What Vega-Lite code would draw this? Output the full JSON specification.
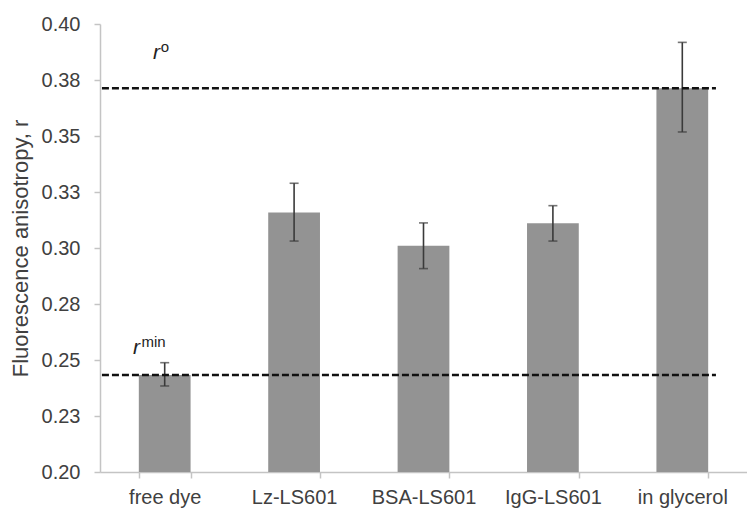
{
  "$schema": "https://vega.github.io/schema/vega-lite/v6.json",
  "width": 647,
  "height": 448,
  "autosize": "none",
  "padding": {"left": 100, "top": 24, "right": 0, "bottom": 40},
  "background": "white",
  "config": {
    "view": {"stroke": null},
    "font": "Liberation Sans",
    "axis": {"grid": false, "domainColor": "#c4c4c4", "tickColor": "#c4c4c4", "labelColor": "#404040", "titleColor": "#404040", "labelFontSize": 20, "titleFontSize": 22, "titleFontWeight": "normal", "domainWidth": 1.5, "tickWidth": 1.5}
  },
  "datasets": {
    "bars": [
      {"cat": "free dye", "r": 0.2433, "lo": 0.2384, "hi": 0.2488},
      {"cat": "Lz-LS601", "r": 0.3159, "lo": 0.3031, "hi": 0.3289},
      {"cat": "BSA-LS601", "r": 0.3010, "lo": 0.2908, "hi": 0.3112},
      {"cat": "IgG-LS601", "r": 0.3110, "lo": 0.3031, "hi": 0.3189},
      {"cat": "in glycerol", "r": 0.3713, "lo": 0.3518, "hi": 0.3918}
    ],
    "lines": [
      {"name": "r0", "y": 0.3713, "x0": 0.003, "x1": 0.952},
      {"name": "rmin", "y": 0.2433, "x0": 0.003, "x1": 0.952}
    ],
    "labels": [
      {"t": "r", "x": 0.082, "y": 0.3844, "kind": "main"},
      {"t": "o", "x": 0.094, "y": 0.3875, "kind": "sup"},
      {"t": "r", "x": 0.051, "y": 0.2527, "kind": "main"},
      {"t": "min", "x": 0.064, "y": 0.2560, "kind": "sup"}
    ]
  },
  "layer": [
    {
      "encoding": {
        "x": {"field": "cat", "type": "nominal", "sort": null,
          "scale": {"paddingInner": 0.6, "paddingOuter": 0.3},
          "axis": {"title": null, "labelAngle": 0, "tickBand": "extent", "tickSize": 6, "labelPadding": 9}}
      },
      "layer": [
        {
          "data": {"name": "bars"},
          "mark": {"type": "bar", "color": "#939393"},
          "encoding": {
            "y": {"field": "r", "type": "quantitative",
              "scale": {"domain": [0.2, 0.4], "nice": false, "zero": false},
              "axis": {"title": "Fluorescence anisotropy, r", "values": [0.2, 0.225, 0.25, 0.275, 0.3, 0.325, 0.35, 0.375, 0.4], "format": ".2f", "tickSize": 6, "labelPadding": 14, "titlePadding": 9}},
            "y2": {"datum": 0.2}
          }
        },
        {
          "data": {"name": "bars"},
          "mark": {"type": "rule", "color": "#3a3a3a", "strokeWidth": 1.6},
          "encoding": {"y": {"field": "lo", "type": "quantitative"}, "y2": {"field": "hi"}}
        },
        {
          "data": {"name": "bars"},
          "mark": {"type": "tick", "color": "#3a3a3a", "size": 9, "thickness": 1.6, "orient": "horizontal"},
          "encoding": {"y": {"field": "lo", "type": "quantitative"}}
        },
        {
          "data": {"name": "bars"},
          "mark": {"type": "tick", "color": "#3a3a3a", "size": 9, "thickness": 1.6, "orient": "horizontal"},
          "encoding": {"y": {"field": "hi", "type": "quantitative"}}
        }
      ]
    },
    {
      "layer": [
        {
          "data": {"name": "lines"},
          "mark": {"type": "rule", "color": "#111111", "strokeWidth": 2.4, "strokeDash": [7, 3]},
          "encoding": {
            "x": {"field": "x0", "type": "quantitative", "scale": {"domain": [0, 1]}, "axis": null},
            "x2": {"field": "x1"},
            "y": {"field": "y", "type": "quantitative"}
          }
        },
        {
          "data": {"name": "labels"},
          "transform": [{"filter": "datum.kind == 'main'"}],
          "mark": {"type": "text", "fontStyle": "italic", "fontSize": 21, "align": "left", "baseline": "alphabetic", "color": "#222222"},
          "encoding": {
            "x": {"field": "x", "type": "quantitative", "scale": {"domain": [0, 1]}, "axis": null},
            "y": {"field": "y", "type": "quantitative"},
            "text": {"field": "t"}
          }
        },
        {
          "data": {"name": "labels"},
          "transform": [{"filter": "datum.kind == 'sup'"}],
          "mark": {"type": "text", "fontSize": 15, "align": "left", "baseline": "alphabetic", "color": "#222222"},
          "encoding": {
            "x": {"field": "x", "type": "quantitative", "scale": {"domain": [0, 1]}, "axis": null},
            "y": {"field": "y", "type": "quantitative"},
            "text": {"field": "t"}
          }
        }
      ]
    }
  ],
  "resolve": {"scale": {"x": "independent"}, "axis": {"x": "independent"}}
}
